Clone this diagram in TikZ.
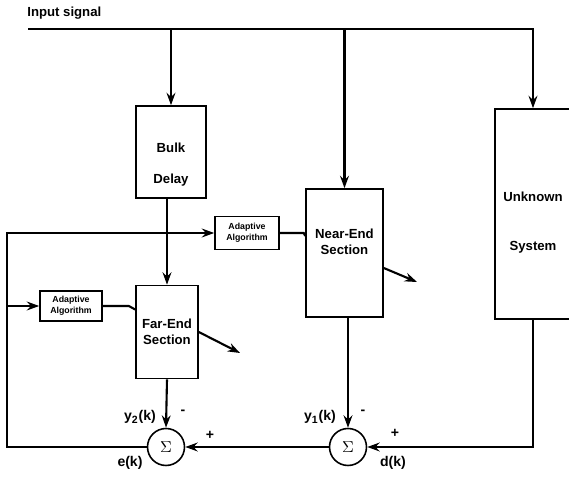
\documentclass[tikz,border=0pt]{standalone}
\usepackage{fontspec}
\setmainfont{Liberation Sans}
\usepackage{tikz}
\usetikzlibrary{arrows.meta,positioning}

\begin{document}
\begin{tikzpicture}[x=0.02cm, y=-0.02cm,
		font=\bfseries\fontsize{7.5}{9}\selectfont,
		blk/.style={draw, line width=0.9pt, inner sep=0pt, align=center},
		adapt/.style={blk, font=\bfseries\fontsize{5}{6}\selectfont},
		sumnode/.style={draw, circle, line width=0.9pt, minimum size=0.74cm, inner sep=0pt, font=\fontsize{9}{10}\selectfont},
		txt/.style={inner sep=0pt, align=center},
		lbl/.style={inner sep=0pt, font=\bfseries\fontsize{8}{9}\selectfont},
		wire/.style={line width=1.2pt},
		arr/.style={wire, -{Stealth[length=7pt, width=5pt]}}]
	\path[use as bounding box, clip] (0,0) rectangle (569,479);
	\node[txt, anchor=west] (title) at (27,13) {Input signal};
	\coordinate (in) at (28,29);
	\coordinate (fb) at (7,447);
	\coordinate (farout) at (240,353);
	\coordinate (nearout) at (417,282);
	\node[blk, minimum width=1.4cm, minimum height=1.84cm] (bulk) at (171,152) {};
	\node[txt] (bulktxt) at ([yshift=-0.25cm]bulk.center) {Bulk\\[8.6pt]Delay};
	\node[blk, minimum width=1.24cm, minimum height=1.86cm] (far) at (167,332) {Far-End\\Section};
	\node[blk, minimum width=1.54cm, minimum height=2.56cm] (near) at (344.5,253) {};
	\node[txt] (neartxt) at ([yshift=0.23cm]near.center) {Near-End\\Section};
	\node[blk, minimum width=1.52cm, minimum height=4.2cm] (unk) at (533,214) {};
	\node[txt] (unktxt) at ([yshift=-0.17cm]unk.center) {Unknown\\[18.8pt]System};
	\node[adapt, minimum width=1.28cm, minimum height=0.66cm] (aaU) at (247,233) {Adaptive\\Algorithm};
	\node[adapt, minimum width=1.24cm, minimum height=0.6cm] (aaL) at (71,306) {Adaptive\\Algorithm};
	\node[sumnode] (sumL) at (166,447) {$\Sigma$};
	\node[sumnode] (sumR) at (348,447) {$\Sigma$};

	\draw[arr] (in) -| (unk.north);
	\draw[arr] (bulk.north |- in) -- (bulk.north);
	\draw[arr] (near.north |- in) -- (near.north);
	\draw[arr] (far.north |- bulk.south) -- (far.north);
	\draw[arr] (far.east) -- (farout);
	\draw[arr] ([yshift=-0.3cm]near.east) -- (nearout);
	\draw[arr] (far.south) -- (sumL.north);
	\draw[arr] (sumR.north |- near.south) -- (sumR.north);
	\draw[arr] (unk.south) |- (sumR.east);
	\draw[arr] (sumR.west) -- (sumL.east);
	\draw[arr] (sumL.west) -- (fb) |- (aaU.west);
	\draw[arr] (fb |- aaL.west) -- (aaL.west);
	\draw[wire] (aaL.east) -- ++(26,0) -- ([yshift=0.45cm]far.west);
	\draw[wire] (aaU.east) -- ++(24,0) -- ([yshift=0.34cm]near.west);

	\node[lbl] (y2) at (140,417) {y\textsubscript{2}(k)};
	\node[lbl] (m2) at (183,412) {-};
	\node[lbl] (p2) at (210,435) {+};
	\node[lbl] (ek) at (130,463) {e(k)};
	\node[lbl] (y1) at (320,417) {y\textsubscript{1}(k)};
	\node[lbl] (m1) at (363,412) {-};
	\node[lbl] (p1) at (395,433) {+};
	\node[lbl] (dk) at (393,463) {d(k)};
\end{tikzpicture}
\end{document}
